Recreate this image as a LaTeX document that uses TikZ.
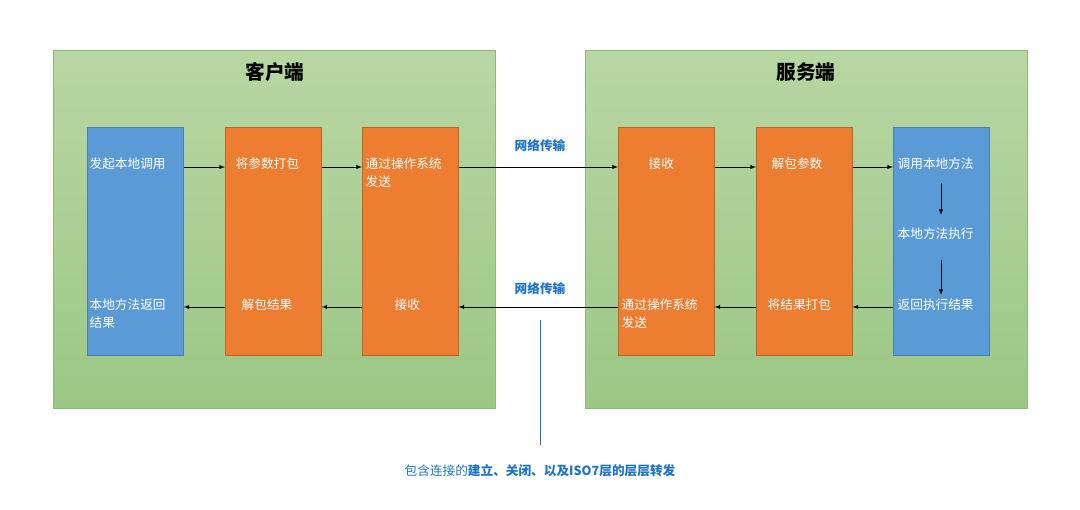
\documentclass[tikz,border=0pt]{standalone}
\usepackage{fontspec}
\setmainfont{Noto Sans CJK SC}
\usetikzlibrary{positioning}
\definecolor{panelTop}{HTML}{B8D7A3}
\definecolor{panelBot}{HTML}{9CC785}
\definecolor{panelLine}{HTML}{8DB97A}
\definecolor{colBlue}{HTML}{5B9BD5}
\definecolor{colOrange}{HTML}{ED7D31}
\definecolor{colLine}{HTML}{4A7FB0}
\definecolor{netBlue}{HTML}{1F74C4}
\tikzset{
  panel/.style={draw=panelLine, top color=panelTop, bottom color=panelBot, anchor=north west, inner sep=0},
  column/.style={draw=colLine, anchor=north west, inner sep=0, minimum width=2.4cm, minimum height=5.7cm},
  bluecol/.style={column, fill=colBlue},
  orangecol/.style={column, fill=colOrange, draw=colOrange!80!black},
  label/.style={text=white, font=\fontsize{9}{13}\selectfont, anchor=north west, align=left, inner sep=1pt},
  title/.style={font=\fontsize{14}{16}\selectfont\bfseries},
  net/.style={text=netBlue, font=\fontsize{9}{11}\selectfont\bfseries},
  link/.style={-latex, thin}
}
\begin{document}
\begin{tikzpicture}[x=0.025cm, y=-0.025cm]
    \useasboundingbox (0,0) rectangle (1080,509);
    \node[panel, minimum width=11.05cm, minimum height=8.95cm] (pl) at (53,50) {};
    \node[panel, minimum width=11.05cm, minimum height=8.95cm] (pr) at (585,50) {};
    \node[title] (tl) at (275,72) {客户端};
    \node[title] (tr) at (806,72) {服务端};

    % 客户端
    \node[bluecol] (c1) at (87,127) {};
    \node[orangecol] (c2) at (225,127) {};
    \node[orangecol] (c3) at (362,127) {};
    % 服务端
    \node[orangecol] (s1) at (618,127) {};
    \node[orangecol] (s2) at (756,127) {};
    \node[bluecol] (s3) at (893,127) {};

    \node[label] (a1) at (88,156) {发起本地调用};
    \node[label] (a2) at (234,156) {将参数打包};
    \node[label] (a3) at (364,156) {通过操作系统\\发送};
    \node[label] (a4) at (647,156) {接收};
    \node[label] (a5) at (770,156) {解包参数};
    \node[label] (a6) at (896,156) {调用本地方法};
    \node[label] (a7) at (896,226) {本地方法执行};
    \node[label] (a8) at (896,297) {返回执行结果};
    \node[label] (b1) at (88,297) {本地方法返回\\结果};
    \node[label] (b2) at (240,297) {解包结果};
    \node[label] (b3) at (393,297) {接收};
    \node[label] (b4) at (620,297) {通过操作系统\\发送};
    \node[label] (b5) at (766,297) {将结果打包};

    \coordinate (up) at (0,167);
    \coordinate (dn) at (0,307);
    \draw[link] (c1.east |- up) -- (c2.west |- up);
    \draw[link] (c2.east |- up) -- (c3.west |- up);
    \draw[link] (c3.east |- up) -- (s1.west |- up);
    \draw[link] (s1.east |- up) -- (s2.west |- up);
    \draw[link] (s2.east |- up) -- (s3.west |- up);
    \draw[link] (s3.west |- dn) -- (s2.east |- dn);
    \draw[link] (s2.west |- dn) -- (s1.east |- dn);
    \draw[link] (s1.west |- dn) -- (c3.east |- dn);
    \draw[link] (c3.west |- dn) -- (c2.east |- dn);
    \draw[link] (c2.west |- dn) -- (c1.east |- dn);
    \draw[link] (941,183) -- (941,215);
    \draw[link] (941,260) -- (941,295);

    \node[net] (n1) at (540,146) {网络传输};
    \node[net] (n2) at (540,289) {网络传输};
    \node[text=netBlue, font=\fontsize{9}{11}\selectfont] (note) at (540,471) {包含连接的\textbf{建立、关闭、以及ISO7层的层层转发}};
    \coordinate (ntop) at (540,320);
    \draw[netBlue] (ntop) -- (note.north |- 0,445);
\end{tikzpicture}
\end{document}
